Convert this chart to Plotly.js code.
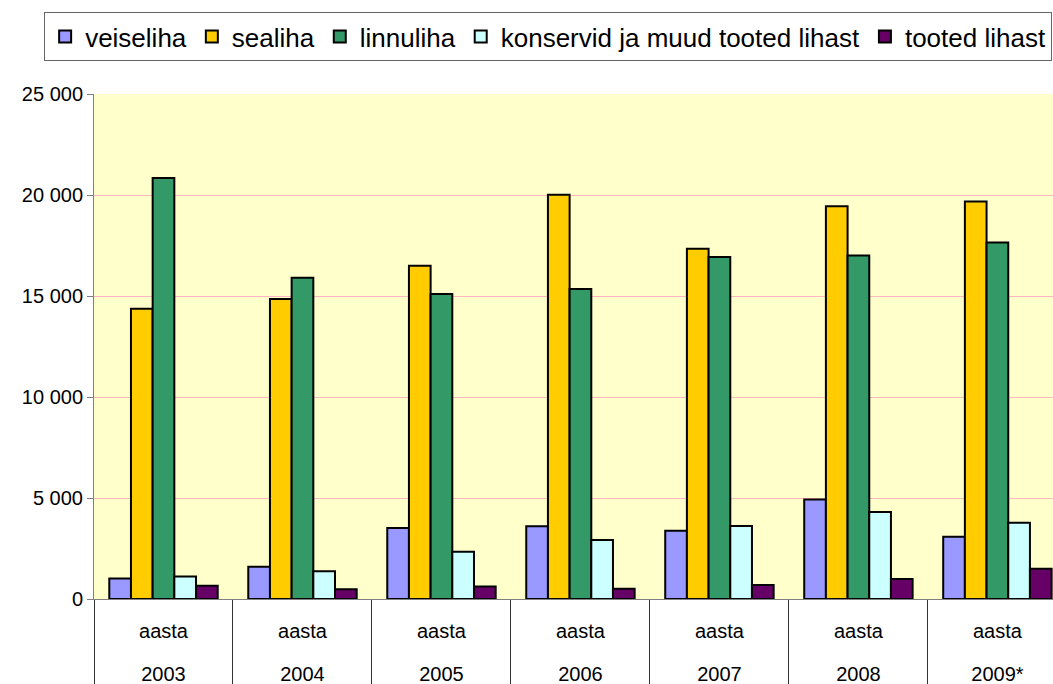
<!DOCTYPE html>
<html>
<head>
<meta charset="utf-8">
<script src="https://cdn.plot.ly/plotly-3.0.1.min.js"></script>
<style>html,body{margin:0;padding:0;background:#fff}#chart{width:1053px;height:684px}</style>
</head>
<body>
<div id="chart"></div>
<script>
const years = ['2003', '2004', '2005', '2006', '2007', '2008', '2009*'];
const prefixLabels = ['aasta', 'aasta', 'aasta', 'aasta', 'aasta', 'aasta', 'aasta'];
const seriesNames = ['veiseliha', 'sealiha', 'linnuliha', 'konservid ja muud tooted lihast', 'tooted lihast'];
const veiseliha = [1010, 1600, 3510, 3600, 3380, 4920, 3080];
const sealiha = [14370, 14850, 16500, 20010, 17340, 19440, 19680];
const linnuliha = [20840, 15900, 15100, 15350, 16930, 17010, 17650];
const konservid = [1120, 1370, 2340, 2920, 3610, 4310, 3780];
const tootedLihast = [660, 480, 620, 510, 690, 990, 1500];
const yTicks = [0, 5000, 10000, 15000, 20000, 25000];
const colors = ['#9999FF', '#FFCC00', '#339966', '#CCFFFF', '#660066'];
const allValues = [veiseliha, sealiha, linnuliha, konservid, tootedLihast];

const traces = allValues.map((vals, i) => ({
  type: 'bar',
  name: seriesNames[i],
  x: years,
  y: vals,
  xaxis: 'x', yaxis: 'y',
  marker: {color: colors[i], line: {color: '#000000', width: 2}},
  hoverinfo: 'skip'
}));
// helper traces (draw nothing) so the overlaying category axes for the year labels and dividers are rendered
['x2', 'x3'].forEach(ax => traces.push({
  type: 'scatter', mode: 'none', x: years, y: years.map(() => null),
  xaxis: ax, yaxis: 'y', showlegend: false, hoverinfo: 'skip'
}));

const commonX = {
  type: 'category',
  range: [-0.5, 6.4],
  showgrid: false, zeroline: false
};

const layout = {
  width: 1053, height: 684,
  margin: {l: 94, r: 0, t: 94, b: 84.5, autoexpand: false},
  paper_bgcolor: '#ffffff',
  plot_bgcolor: '#FFFFCC',
  font: {family: 'Liberation Sans, Arial, sans-serif', size: 20, color: '#000000'},
  separators: ', ',
  barmode: 'group',
  bargap: 0.22,
  bargroupgap: 0,
  showlegend: true,
  legend: {
    orientation: 'h',
    x: -0.052, xanchor: 'left',
    y: 1.162, yanchor: 'top',
    bordercolor: '#666666', borderwidth: 1,
    bgcolor: '#ffffff',
    font: {size: 26, color: '#000000'},
    itemclick: false
  },
  xaxis: Object.assign({}, commonX, {
    showline: true, linecolor: '#808080', linewidth: 1,
    ticks: '',
    tickmode: 'array', tickvals: years, ticktext: prefixLabels,
    ticklabelstandoff: 14,
    tickfont: {size: 20}
  }),
  xaxis2: Object.assign({}, commonX, {
    overlaying: 'x', anchor: 'y', side: 'bottom',
    showline: false,
    ticks: '',
    tickmode: 'array', tickvals: years, ticktext: years,
    ticklabelstandoff: 61,
    tickfont: {size: 20}
  }),
  xaxis3: Object.assign({}, commonX, {
    overlaying: 'x', anchor: 'y', side: 'bottom',
    showline: false, showticklabels: false,
    ticks: 'outside', tickson: 'boundaries', ticklen: 85, tickwidth: 1, tickcolor: '#333333',
    tickmode: 'array', tickvals: years
  }),
  yaxis: {
    range: [0, 25000],
    tickmode: 'array', tickvals: yTicks,
    tickformat: ',d',
    separatethousands: true,
    showline: true, linecolor: '#808080', linewidth: 1,
    ticks: 'outside', ticklen: 6, tickcolor: '#808080',
    showgrid: true, gridcolor: '#FFB6C1', gridwidth: 1,
    zeroline: false,
    tickfont: {size: 20}
  }
};

Plotly.newPlot('chart', traces, layout, {staticPlot: true, displayModeBar: false});
</script>
</body>
</html>
